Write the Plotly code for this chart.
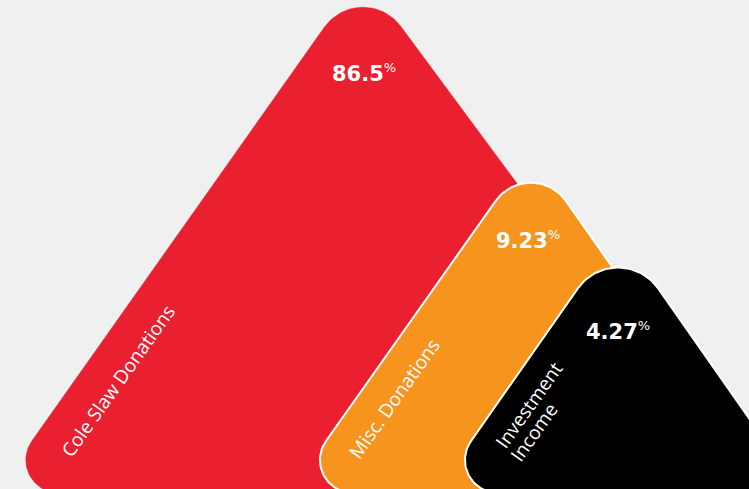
import numpy as np
import plotly.graph_objects as go

# ---- data ----
categories = ["Cole Slaw Donations", "Misc. Donations", "Investment<br>Income"]
shares = [86.5, 9.23, 4.27]
colors = ["#EA1F2F", "#F7941E", "#000000"]

# ---- layout geometry (pixel space, y downward) ----
W, H = 749, 489
apex_x = [362, 531, 618]
apex_y = [-26, 151, 231]
slope_left = [0.707, 0.707, 0.70]
slope_right = [0.74, 0.70, 0.70]
r_top = [47, 43, 49]
r_base = 33
base_y = 493
outline = [0, 2, 2]
value_pos = [(364, 73), (528, 240), (618, 331)]
# one centre per text line of each category label
label_pos = [[(118, 381)], [(394, 399)], [(529, 405), (534, 432)]]


def rounded_polygon(verts, radii, n=40):
    verts = [np.array(v, float) for v in verts]
    m = len(verts)
    pts = []
    for i in range(m):
        V = verts[i]
        P = verts[i - 1]
        N = verts[(i + 1) % m]
        u1 = (P - V) / np.linalg.norm(P - V)
        u2 = (N - V) / np.linalg.norm(N - V)
        ang = np.arccos(np.clip(np.dot(u1, u2), -1, 1))
        phi = ang / 2
        r = radii[i]
        d = r / np.tan(phi)
        T1 = V + u1 * d
        T2 = V + u2 * d
        bis = (u1 + u2) / np.linalg.norm(u1 + u2)
        C = V + bis * (r / np.sin(phi))
        a1 = np.arctan2(*(T1 - C)[::-1])
        a2 = np.arctan2(*(T2 - C)[::-1])
        da = (a2 - a1 + np.pi) % (2 * np.pi) - np.pi
        for t in np.linspace(0, 1, n):
            a = a1 + da * t
            pts.append(C + r * np.array([np.cos(a), np.sin(a)]))
    pts.append(pts[0])
    pts = np.array(pts)
    return pts[:, 0], pts[:, 1]


fig = go.Figure()
for i in range(len(shares)):
    ax, ay = apex_x[i], apex_y[i]
    bl = (ax - slope_left[i] * (base_y - ay), base_y)
    br = (ax + slope_right[i] * (base_y - ay), base_y)
    xs, ys = rounded_polygon([(ax, ay), br, bl], [r_top[i], r_base, r_base])
    fig.add_trace(go.Scatter(
        x=xs, y=ys, mode="lines", fill="toself", fillcolor=colors[i],
        line=dict(color="white" if outline[i] else colors[i], width=outline[i] or 0.5),
        hoverinfo="skip", showlegend=False))

for i in range(len(shares)):
    vx, vy = value_pos[i]
    fig.add_annotation(
        x=vx, y=vy,
        text=f"<b>{shares[i]:g}</b><sup><span style='font-size:13px'>%</span></sup>",
        showarrow=False,
        font=dict(family="DejaVu Sans", size=21, color="white"), xanchor="center", yanchor="middle")
    for line, (lx, ly) in zip(categories[i].split("<br>"), label_pos[i]):
        fig.add_annotation(
            x=lx, y=ly, text=line, showarrow=False, textangle=-54.7,
            font=dict(family="Open Sans", size=19, color="white"),
            xanchor="center", yanchor="middle")

fig.update_layout(
    width=W, height=H, margin=dict(l=0, r=0, t=0, b=0),
    paper_bgcolor="#F0F0F0", plot_bgcolor="#F0F0F0",
    xaxis=dict(range=[0, W], visible=False, fixedrange=True),
    yaxis=dict(range=[H, 0], visible=False, fixedrange=True),
)
fig.write_html(
    "out.html",
    config={"displayModeBar": False},
    post_script="document.body.style.margin='0';document.body.style.background='#F0F0F0';",
)
